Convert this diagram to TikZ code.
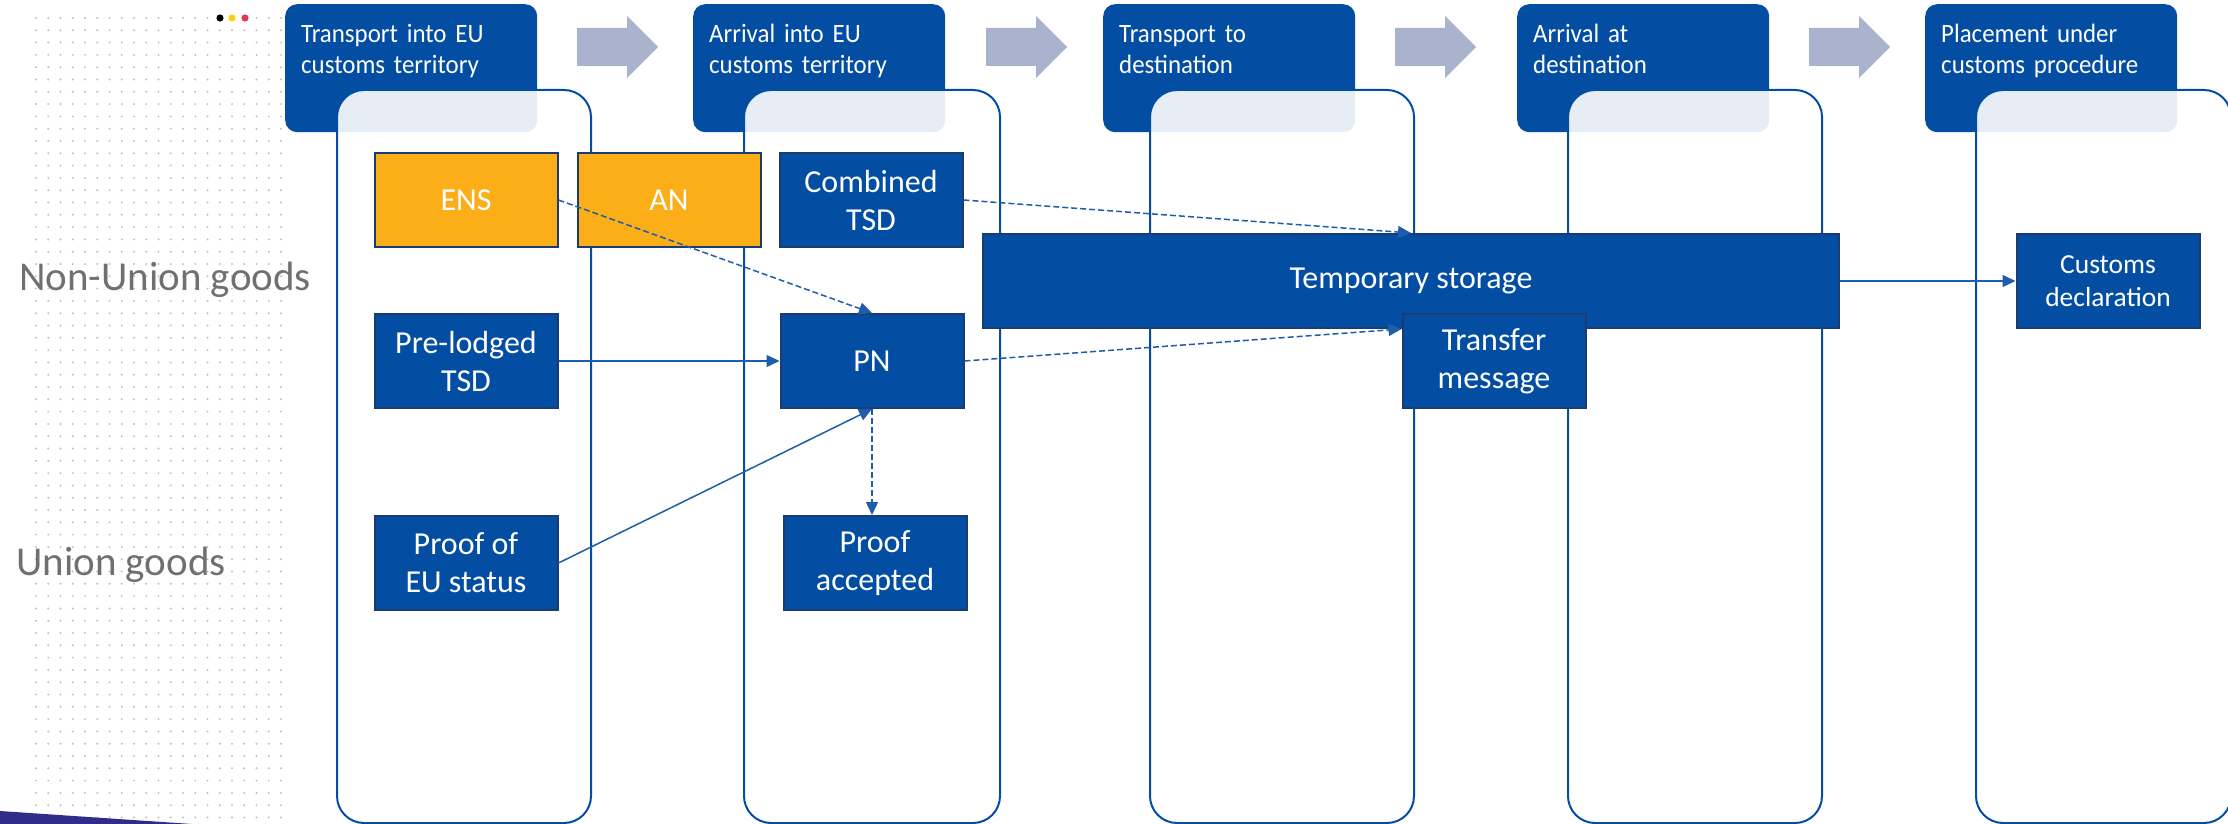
\documentclass[tikz,border=0pt]{standalone}
\usepackage{fontspec}
\setmainfont{Carlito}
\newfontfamily\stagefont{Carlito}[FakeStretch=0.94]
\usepackage{xcolor}
\usepackage{tikz}
\usetikzlibrary{arrows.meta}
\definecolor{eublue}{rgb}{0.012, 0.306, 0.635}
\definecolor{boxedge}{rgb}{0.106, 0.235, 0.451}
\definecolor{amber}{rgb}{0.984, 0.682, 0.090}
\definecolor{chevron}{rgb}{0.663, 0.702, 0.808}
\definecolor{flowblue}{rgb}{0.118, 0.365, 0.667}
\definecolor{labelgrey}{rgb}{0.44, 0.44, 0.44}
\definecolor{indigo}{rgb}{0.184, 0.172, 0.541}
\definecolor{flagyellow}{rgb}{0.969, 0.824, 0.078}
\definecolor{flagred}{rgb}{0.906, 0.216, 0.306}

\begin{document}
\begin{tikzpicture}[x=1pt,y=-1pt]
	\tikzstyle{stagehead} = [fill=eublue, rounded corners=12pt, minimum width=252pt, minimum height=128pt, inner sep=0pt, anchor=north west]
	\tikzstyle{stagetext} = [text=white, font=\stagefont\fontsize{26.5}{31}\selectfont, text width=235pt, align=left, inner sep=0pt, anchor=base west]
	\tikzstyle{lanebox} = [draw=eublue, line width=2pt, fill=white, fill opacity=0.9, rounded corners=27pt, minimum height=733pt, inner sep=0pt, anchor=north west]
	\tikzstyle{docbox} = [draw=boxedge, line width=2pt, fill=eublue, text=white, font=\fontsize{32}{38}\selectfont, align=center, minimum width=183pt, minimum height=94pt, inner sep=0pt]
	\tikzstyle{docboxamber} = [docbox, fill=amber]
	\tikzstyle{flowarrow} = [draw=flowblue, line width=1.5pt, -{Triangle[length=13pt,width=12pt]}]
	\tikzstyle{flowdashed} = [flowarrow, dash pattern=on 6pt off 3pt]
	\tikzstyle{goodslabel} = [text=labelgrey, font=\fontsize{41}{45}\selectfont, inner sep=0pt, anchor=base west]

	\useasboundingbox (0,0) rectangle (2228,824);

	% Draw the dot grid.
	\foreach \i in {0,1,...,20}
	{
		\foreach \j in {0,1,...,65}
		{
			\fill[gray!50] (36+12.25*\i,18+12.3*\j) circle (1.1);
		}
	}
	\fill[black] (220,18) circle (3.6);
	\fill[flagyellow] (232,18) circle (3.6);
	\fill[flagred] (245,18) circle (3.6);
	\fill[indigo] (0,811) -- (192,824) -- (0,824) -- cycle;

	% Stage headers and lanes
	\foreach \hx/\lx/\lw/\first/\second [count=\n] in {285/336/254/Transport into EU/customs territory, 693/743/256/Arrival into EU/customs territory, 1103/1149/264/Transport to/destination, 1517/1567/254/Arrival at/destination, 1925/1975/255/Placement under/customs procedure}
	{
		\node[stagehead] (stage\n) at (\hx,4) {};
		\node[stagetext] (title\n) at (\hx+16,43) {\first\\\second};
		\node[lanebox, minimum width=\lw pt] (lane\n) at (\lx,89) {};
	}

	% Chevrons between the stages
	\foreach \cx in {577,986,1395,1809}
	{
		\fill[chevron] (\cx,28) -- (\cx+50,28) -- (\cx+50,16) -- (\cx+81,47) -- (\cx+50,78) -- (\cx+50,66) -- (\cx,66) -- cycle;
	}

	% Side labels
	\node[goodslabel] (nonunion) at (19,290) {Non-Union goods};
	\node[goodslabel] (union) at (16,575) {Union goods};

	% Messages
	\node[docboxamber] (ens) at (466,200) {ENS};
	\node[docboxamber] (an) at (669,200) {AN};
	\node[docbox] (ctsd) at (871,200) {Combined\\TSD};
	\node[docbox] (pretsd) at (466,361) {Pre-lodged\\TSD};
	\node[docbox] (pn) at (872,361) {PN};
	\node[docbox] (proofeu) at (466,563) {Proof of\\EU status};
	\node[docbox] (proofok) at (875,563) {Proof\\accepted};
	\node[docbox, minimum width=856pt] (ts) at (1411,281) {Temporary storage};
	\node[docbox] (transfer) at (1494,361) {Transfer\\message};
	\node[docbox, font=\fontsize{27.5}{33}\selectfont] (custdecl) at (2108,281) {Customs\\declaration};

	% Flows
	\draw[flowdashed] (ens.east) -- (pn.north);
	\draw[flowdashed] (ctsd.east) -- (ts.north);
	\draw[flowarrow] (pretsd.east) -- (pn.west);
	\draw[flowarrow] (proofeu.east) -- (pn.south);
	\draw[flowdashed] (pn.south) -- (pn.south |- proofok.north);
	\draw[flowdashed] (pn.east) -- ([yshift=-16pt]transfer.north west);
	\draw[flowarrow] (ts.east) -- (custdecl.west);
\end{tikzpicture}
\end{document}
